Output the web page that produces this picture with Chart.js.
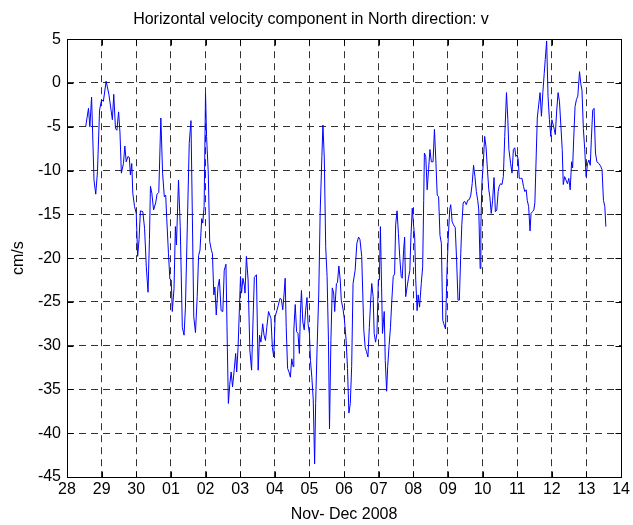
<!DOCTYPE html>
<html>
<head>
<meta charset="utf-8">
<script src="https://cdn.jsdelivr.net/npm/chart.js@4/dist/chart.umd.min.js"></script>
<style>
  html, body { margin: 0; padding: 0; background: #fff; }
  #wrap { width: 633px; height: 525px; }
</style>
</head>
<body>
<div id="wrap"><canvas id="c" width="633" height="525"></canvas></div>
<script>
// Time axis: days since 28 Nov 2008, 00:00
const dayTickLabels = ['28','29','30','01','02','03','04','05','06','07','08','09','10','11','12','13','14'];

const days = [
  0.54,0.62,0.66,0.71,0.78,0.83,0.88,0.94,1.00,1.05,1.13,1.21,1.31,1.35,1.40,1.44,1.49,1.53,1.57,1.63,
  1.67,1.71,1.76,1.80,1.83,1.87,1.90,1.95,2.00,2.04,2.08,2.12,2.19,2.24,2.29,2.34,2.38,2.41,2.45,2.50,
  2.56,2.60,2.65,2.71,2.76,2.81,2.85,2.88,2.93,2.97,3.01,3.04,3.09,3.13,3.16,3.22,3.27,3.33,3.38,3.42,
  3.48,3.53,3.58,3.62,3.66,3.71,3.76,3.80,3.84,3.89,3.92,3.96,4.00,4.03,4.08,4.12,4.17,4.20,4.24,4.27,
  4.31,4.36,4.40,4.45,4.50,4.54,4.59,4.63,4.66,4.70,4.74,4.78,4.83,4.87,4.90,4.94,4.98,5.01,5.04,5.08,
  5.12,5.14,5.18,5.23,5.28,5.33,5.38,5.41,5.47,5.52,5.56,
  5.60,5.65,5.69,5.73,5.77,5.82,5.89,5.93,5.97,6.01,6.06,6.10,6.15,6.19,6.23,6.27,6.30,6.33,6.37,6.41,
  6.45,6.49,6.53,6.55,6.59,6.63,6.67,6.71,6.74,6.77,6.81,6.85,6.89,6.93,6.96,7.00,7.03,7.07,7.11,7.15,
  7.18,7.22,7.27,7.31,7.36,7.39,7.43,7.47,7.51,7.55,7.58,7.62,7.66,7.70,7.73,7.78,7.81,7.85,7.89,7.92,
  7.97,8.01,8.06,8.10,8.14,8.18,8.22,8.26,8.32,8.37,8.42,8.46,8.51,8.54,8.57,8.61,8.65,8.69,8.73,8.77,
  8.80,8.84,8.87,8.91,8.95,8.99,9.02,9.05,9.08,9.11,9.16,9.19,9.23,9.26,9.30,9.34,9.38,9.42,9.46,9.49,
  9.53,9.57,9.61,9.65,9.68,9.72,9.75,9.78,9.82,9.86,9.90,9.93,9.97,10.01,10.04,10.07,10.11,10.14,10.18,10.23,
  10.27,10.30,10.32,10.36,10.40,10.44,10.48,10.52,10.57,
  10.61,10.65,10.69,10.73,10.77,10.81,10.85,10.88,10.93,10.97,11.01,11.05,11.08,11.12,11.16,11.21,11.25,11.29,11.33,11.37,
  11.40,11.44,11.48,11.53,11.57,11.62,11.66,11.70,11.74,11.78,11.82,11.86,11.89,11.93,11.95,11.98,12.02,12.06,12.10,12.14,
  12.18,12.21,12.25,12.29,12.33,12.37,12.41,12.45,12.48,12.52,12.56,12.60,12.64,12.69,12.73,12.76,12.81,12.85,12.89,12.93,
  12.96,13.00,13.03,13.06,13.10,13.14,13.18,13.22,13.26,13.29,13.33,13.37,13.40,13.44,13.48,13.51,13.54,13.58,13.62,13.66,
  13.70,13.74,13.78,13.81,13.85,13.89,13.93,13.97,14.00,14.04,14.07,14.10,14.14,14.18,14.22,14.26,14.30,14.33,14.37,14.41,
  14.45,14.49,14.53,14.57,14.60,14.63,14.67,14.71,14.75,14.80,14.84,14.87,14.91,14.95,14.99,15.03,15.07,15.11,15.14,15.18,
  15.22,15.26,15.30,15.36,15.41,15.45,15.49,15.53,15.56
];

// North component v, cm/s
const velocityV = [
  -5.0,-2.9,-5.0,-1.6,-11.1,-12.7,-10.1,-3.1,-1.9,-2.1,0.2,-1.3,-4.2,-1.3,-5.2,-5.4,-3.3,-5.7,-10.3,-9.2,
  -7.2,-9.0,-8.4,-8.5,-10.5,-9.2,-12.6,-14.1,-14.9,-19.8,-17.9,-14.6,-14.7,-16.6,-21.0,-23.9,-17.9,-11.8,-12.6,-14.5,
  -13.7,-12.7,-12.5,-4.0,-10.3,-13.0,-12.8,-15.5,-19.5,-22.4,-22.5,-26.1,-23.5,-16.4,-18.5,-11.1,-16.4,-27.9,-28.8,-25.6,
  -15.3,-6.9,-4.3,-15.3,-26.7,-28.5,-24.4,-19.7,-19.1,-15.5,-16.0,-14.1,-1.2,-6.1,-10.3,-18.1,-19.1,-19.5,-24.2,-23.3,
  -26.5,-23.3,-22.4,-26.0,-26.1,-21.4,-20.7,-30.2,-36.6,-34.4,-33.0,-34.7,-32.7,-30.9,-33.0,-30.2,-25.6,-22.1,-24.0,-22.3,
  -23.1,-24.0,-19.8,-22.5,-30.5,-32.8,-26.0,-22.2,-21.9,-32.8,-28.8,
  -29.6,-27.5,-28.8,-29.4,-27.9,-26.1,-26.9,-30.2,-31.3,-26.7,-26.0,-25.4,-24.6,-24.7,-25.9,-24.0,-22.3,-27.9,-32.6,-33.0,
  -33.6,-31.5,-32.4,-28.2,-25.3,-28.4,-28.6,-30.9,-26.3,-23.7,-27.3,-28.2,-26.0,-24.5,-27.5,-28.6,-31.7,-33.6,-36.1,-43.5,
  -36.6,-30.5,-24.0,-14.9,-8.4,-4.8,-8.6,-18.7,-22.1,-29.4,-39.5,-29.4,-23.4,-24.0,-26.1,-22.9,-22.8,-20.9,-22.5,-24.8,
  -25.8,-27.0,-29.4,-32.6,-37.7,-36.6,-32.4,-22.9,-21.4,-18.3,-17.6,-17.9,-19.8,-24.0,-28.2,-30.2,-30.7,-31.3,-27.9,-24.8,
  -22.9,-24.4,-28.6,-29.6,-28.6,-22.5,-22.5,-16.4,-22.5,-28.6,-26.1,-31.7,-35.2,-32.4,-30.0,-27.9,-24.8,-22.1,-21.8,-16.2,
  -14.6,-17.2,-20.0,-22.1,-22.3,-19.1,-17.6,-24.4,-23.3,-22.3,-21.4,-17.7,-14.3,-16.4,-17.6,-22.5,-26.0,-24.2,-25.6,-22.9,
  -21.0,-13.4,-8.0,-8.4,-12.2,-9.9,-7.6,-9.0,-9.0,
  -5.3,-8.8,-12.8,-13.0,-17.4,-18.3,-27.1,-27.5,-28.1,-21.8,-17.6,-14.5,-13.9,-15.8,-16.2,-16.5,-20.2,-24.8,-24.8,-19.5,
  -16.2,-13.7,-13.5,-13.9,-13.4,-13.3,-12.8,-11.5,-9.4,-10.7,-12.4,-13.4,-14.5,-21.2,-16.4,-11.5,-9.2,-6.1,-7.3,-9.9,
  -12.2,-13.0,-14.9,-13.4,-10.8,-14.7,-14.5,-12.4,-11.8,-11.5,-11.6,-10.7,-6.1,-1.1,-4.2,-7.6,-9.2,-10.3,-7.6,-7.4,
  -8.4,-8.2,-8.8,-10.9,-10.9,-10.9,-11.8,-12.4,-12.2,-13.4,-14.1,-16.9,-14.9,-14.7,-14.5,-13.7,-9.5,-4.0,-2.5,-1.1,
  -3.8,-1.1,1.1,2.7,4.8,-1.5,-4.2,-6.1,-4.2,-4.8,-5.3,-5.9,-3.2,-1.1,-2.1,-4.8,-7.6,-11.6,-10.7,-11.1,
  -11.5,-10.9,-12.2,-9.0,-9.7,-6.5,-2.7,-1.9,-1.5,1.3,-0.2,-0.8,-5.2,-7.6,-10.7,-9.2,-8.8,-9.4,-6.5,-3.1,
  -2.9,-8.0,-9.0,-9.2,-9.5,-9.9,-13.4,-14.1,-16.4
];

const FONT = { family: "'Liberation Sans', Arial, Helvetica, sans-serif", size: 16 };

// Solid axes box plus inward tick marks on all four sides
const boxAndTicks = {
  id: 'boxAndTicks',
  afterDatasetsDraw(chart) {
    const { ctx, chartArea: a, scales: { x, y } } = chart;
    const L = 6;
    const l = Math.round(a.left) + 0.5, r = Math.round(a.right) + 0.5;
    const t = Math.round(a.top) + 0.5, b = Math.round(a.bottom) + 0.5;
    ctx.save();
    ctx.setLineDash([]);
    ctx.strokeStyle = '#000';
    ctx.lineWidth = 1;
    ctx.beginPath();
    x.ticks.forEach(tk => {
      const px = Math.round(x.getPixelForValue(tk.value)) + 0.5;
      ctx.moveTo(px, b); ctx.lineTo(px, b - L);
      ctx.moveTo(px, t); ctx.lineTo(px, t + L);
    });
    y.ticks.forEach(tk => {
      const py = Math.round(y.getPixelForValue(tk.value)) + 0.5;
      ctx.moveTo(l, py); ctx.lineTo(l + L, py);
      ctx.moveTo(r, py); ctx.lineTo(r - L, py);
    });
    ctx.stroke();
    ctx.strokeRect(l, t, r - l, b - t);
    ctx.restore();
  }
};

new Chart(document.getElementById('c'), {
  type: 'line',
  data: {
    datasets: [{
      data: days.map((d, i) => ({ x: d, y: velocityV[i] })),
      borderColor: '#0000ff',
      borderWidth: 1,
      pointRadius: 0,
      tension: 0,
      fill: false
    }]
  },
  options: {
    responsive: false,
    animation: false,
    layout: { padding: { left: 0, right: 11, top: 0, bottom: 0 } },
    plugins: {
      legend: { display: false },
      tooltip: { enabled: false },
      title: {
        display: true,
        text: 'Horizontal velocity component in North direction: v',
        color: '#000',
        font: { ...FONT, weight: 'normal' },
        padding: { top: 10, bottom: 10 }
      }
    },
    scales: {
      x: {
        type: 'linear',
        min: 0, max: 16,
        afterFit: s => { s.height = 48; },
        ticks: {
          stepSize: 1,
          autoSkip: false,
          maxRotation: 0,
          padding: 3,
          color: '#000',
          font: FONT,
          callback: v => dayTickLabels[v]
        },
        grid: { color: '#333', lineWidth: 1, drawTicks: false },
        border: { display: false, dash: [7, 5] },
        title: {
          display: true,
          text: 'Nov- Dec 2008',
          color: '#000',
          font: FONT,
          padding: { top: 0, bottom: 1 }
        }
      },
      y: {
        min: -45, max: 5,
        afterFit: s => { s.width = 67; },
        ticks: {
          stepSize: 5,
          padding: 6,
          color: '#000',
          font: FONT
        },
        grid: { color: '#333', lineWidth: 1, drawTicks: false },
        border: { display: false, dash: [7, 5] },
        title: {
          display: true,
          text: 'cm/s',
          color: '#000',
          font: FONT,
          padding: { top: 9, bottom: 0 }
        }
      }
    }
  },
  plugins: [boxAndTicks]
});
</script>
</body>
</html>
